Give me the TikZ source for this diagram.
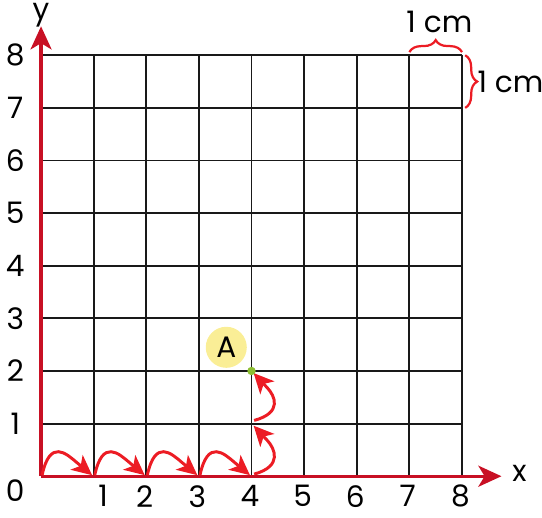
\documentclass[tikz,border=0pt]{standalone}
\usepackage{fontspec}
\setmainfont{Poppins}
\usepackage{tikz}
\usetikzlibrary{arrows.meta,decorations.pathreplacing,calc}
\definecolor{axisred}{RGB}{200,16,36}
\definecolor{hopred}{RGB}{236,28,36}
\definecolor{pointgreen}{RGB}{140,190,50}
\definecolor{labelyellow}{RGB}{250,238,150}

\begin{document}
\begin{tikzpicture}[
        gridline/.style={black!90, line width=1pt},
        axisline/.style={axisred, line width=1.7pt, -{Stealth[length=4.4mm,width=4mm,inset=1.2mm]}},
        hop/.style={hopred, line width=1.6pt, line join=round, -{Stealth[length=3.8mm,width=3.6mm,inset=1mm]}},
        numlabel/.style={font=\fontsize{16}{19}\selectfont, inner sep=0pt},
        cmbrace/.style={hopred, line width=1.2pt, decorate, decoration={brace,amplitude=6.5pt}}
    ]
        \useasboundingbox (-0.78,-0.78) rectangle (9.52,9.05);
        % Squared paper
        \draw[gridline] (0,0) grid (8,8);
        % Axes
        \coordinate (o) at (0,0);
        \coordinate (xend) at (8.75,0);
        \coordinate (yend) at (0,8.55);
        \draw[axisline] (o) -- (xend);
        \draw[axisline] (o) -- (yend);
        \node[numlabel] (xlab) at (9.09,0.06) {x};
        \node[numlabel] (ylab) at (0,8.76) {y};
        % Scale numbers
        \node[numlabel] (n0) at (-0.49,-0.27) {0};
        \node[numlabel] (x1) at (1.18,-0.38) {1};
        \foreach \n in {2,...,8} {
            \node[numlabel] (x\n) at (\n-0.03,-0.38) {\n};
        }
        \foreach \n in {1,...,8} {
            \node[numlabel] (y\n) at (-0.49,\n) {\n};
        }
        % Unit braces
        \draw[cmbrace] (7,8.06) -- (8,8.06);
        \node[numlabel] (cmtop) at (7.57,8.63) {1 cm};
        \draw[cmbrace] (8.06,8) -- (8.06,7);
        \node[numlabel] (cmright) at (8.92,7.5) {1 cm};
        % Hops along x, then up
        \foreach \i in {0,...,4} {
            \coordinate (p\i) at (\i,0);
        }
        \coordinate (q1) at (4,1);
        \coordinate (q2) at (4,2);
        \foreach \i/\j in {0/1,1/2,2/3,3/4} {
            \draw[hop] ($(p\i)+(0.02,0.02)$) .. controls +(0.15,0.7) and +(-0.2,0.17) .. ($(p\j)+(-0.32,0.26)$) -- ($(p\j)+(-0.03,0.02)$);
        }
        \draw[hop] ($(p4)+(0.05,0.04)$) .. controls +(0.55,0.15) and +(0.14,-0.15) .. ($(q1)+(0.3,-0.32)$) -- ($(q1)+(0.04,-0.04)$);
        \draw[hop] ($(q1)+(0.05,0.06)$) .. controls +(0.55,0.15) and +(0.14,-0.15) .. ($(q2)+(0.3,-0.32)$) -- ($(q2)+(0.04,-0.04)$);
        % Point A
        \fill[pointgreen] (q2) circle (0.08);
        \node[numlabel, circle, fill=labelyellow, minimum size=0.78cm] (a) at (3.52,2.45) {A};
    \end{tikzpicture}
\end{document}
